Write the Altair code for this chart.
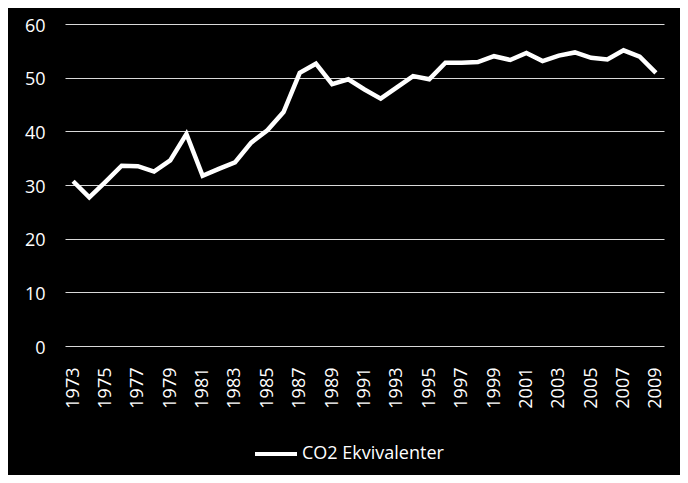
import altair as alt
import pandas as pd

years = list(range(1973, 2010))
values = [30.7, 27.7, 30.6, 33.6, 33.5, 32.5, 34.6, 39.5, 31.7, 33.0,
          34.2, 37.9, 40.2, 43.6, 50.9, 52.6, 48.8, 49.7, 47.8, 46.1,
          48.2, 50.3, 49.7, 52.8, 52.8, 52.9, 54.0, 53.3, 54.6, 53.1,
          54.1, 54.7, 53.7, 53.4, 55.1, 53.9, 50.9]
series_name = "CO2 Ekvivalenter"
label_years = [str(y) for y in range(1973, 2010, 2)]
y_ticks = [0, 10, 20, 30, 40, 50, 60]

df = pd.DataFrame({"year": [str(y) for y in years], "value": values,
                   "series": [series_name] * len(years)})

FONT = "Open Sans"
FS = 18

chart = alt.Chart(df).mark_line(strokeWidth=4.5, strokeJoin="miter").encode(
    x=alt.X("year:O", title=None,
            scale=alt.Scale(type="point", padding=0.5),
            axis=alt.Axis(values=label_years, labelAngle=-90, labelAlign="right",
                          labelBaseline="middle", labelPadding=21, ticks=False,
                          domain=False, grid=False, labelColor="white",
                          labelFontSize=FS, labelFont=FONT)),
    y=alt.Y("value:Q", title=None,
            scale=alt.Scale(domain=[0, 60], nice=False),
            axis=alt.Axis(values=y_ticks, ticks=False, domain=False,
                          labelPadding=20, labelColor="white", labelFontSize=FS,
                          labelFont=FONT, labelOffset=2, gridColor="#d9d9d9",
                          gridWidth=1.2)),
    color=alt.Color("series:N", title=None,
                    scale=alt.Scale(range=["white"]),
                    legend=alt.Legend(orient="none", legendX=188, legendY=407,
                                      symbolType="stroke", symbolSize=1764,
                                      symbolStrokeWidth=4, labelColor="white",
                                      labelFontSize=FS, labelFont=FONT,
                                      labelOffset=3, padding=0)),
).properties(
    width=599, height=322,
    autosize=alt.AutoSizeParams(type="none"),
    padding={"left": 57, "top": 16, "right": 16, "bottom": 129},
    background="black",
).configure_view(stroke=None)

chart.save("out.html", embed_options={"renderer": "svg", "actions": False})
